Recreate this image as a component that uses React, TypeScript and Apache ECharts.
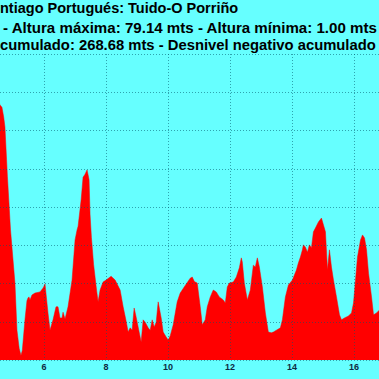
import React, { useEffect, useRef } from "react";
import * as echarts from "echarts";

// Distance along the route (km)
const distances: number[] = [
  4.40, 4.578, 4.643, 4.70, 4.74, 4.82, 4.92, 5.063, 5.128, 5.20, 5.257, 5.30, 5.386, 5.45, 5.483, 5.515, 5.548, 5.612, 5.709, 5.871, 5.97, 6.00, 6.032,
  6.129, 6.194, 6.291, 6.388, 6.452, 6.517, 6.582, 6.614, 6.679, 6.775, 6.905, 7.002, 7.066, 7.10, 7.20, 7.26, 7.32, 7.389, 7.42, 7.454, 7.486, 7.53,
  7.60, 7.70, 7.745, 7.809, 7.906, 8.003, 8.165, 8.294, 8.456, 8.553, 8.649, 8.714, 8.779, 8.843, 8.908, 8.973, 9.037, 9.134, 9.199, 9.263, 9.360,
  9.425, 9.490, 9.554, 9.619, 9.683, 9.780, 9.845, 9.942, 10.006, 10.071, 10.168, 10.297, 10.394, 10.523, 10.717, 10.782, 10.85, 10.943, 11.040,
  11.105, 11.202, 11.267, 11.364, 11.460, 11.557, 11.654, 11.784, 11.848, 11.913, 11.977, 12.107, 12.204, 12.301, 12.365, 12.397, 12.462, 12.559,
  12.656, 12.753, 12.817, 12.882, 12.947, 13.044, 13.141, 13.237, 13.334, 13.40, 13.496, 13.625, 13.690, 13.787, 13.884, 14.013, 14.142, 14.207,
  14.271, 14.336, 14.368, 14.433, 14.498, 14.562, 14.627, 14.691, 14.756, 14.853, 14.950, 15.015, 15.079, 15.144, 15.208, 15.273, 15.338, 15.435,
  15.532, 15.596, 15.693, 15.822, 15.919, 15.984, 16.048, 16.113, 16.210, 16.275, 16.339, 16.404, 16.469, 16.566, 16.630, 16.727, 16.824, 16.95,
];

// Altitude (m)
const altitudes: number[] = [
  72, 66.7, 66.1, 63.5, 60.9, 48, 34.0, 20.1, 7.8, 3.0, 1.2, 2.5, 10.5, 15.5, 16.2, 16.5, 15.7, 17.0, 17.5, 17.8, 18.8, 19.3, 19.9,
  12.3, 7.8, 10.5, 13.9, 13.9, 11.0, 11.0, 12.5, 10.7, 13.9, 20.9, 31.4, 34.0, 35, 42, 47.8, 48.5, 49.7, 48.5, 47.1, 38, 32,
  25, 18, 15.2, 18.3, 20.4, 20.9, 21.9, 20.9, 18.3, 13.9, 10.2, 7.3, 8.4, 7.8, 13.6, 11.2, 8.6, 4.7, 10.5, 9.9, 8.4,
  7.8, 10.5, 8.6, 9.9, 15.2, 11.0, 7.3, 6.0, 5.2, 6.3, 9.2, 15.2, 17.5, 19.1, 21.4, 21.7, 20.5, 20.1, 13.9,
  9.2, 10.5, 13.9, 16.5, 18.3, 17.8, 16.5, 15.7, 14.9, 19.1, 20.1, 20.4, 21.7, 24.1, 26.7, 25.6, 20.1, 15.7,
  18.3, 24.8, 24.3, 26.7, 24.3, 19.1, 12.3, 7.3, 7.1, 7.3, 7.8, 8.4, 10.5, 16.5, 19.6, 20.9, 23.5, 25.4,
  26.9, 28.8, 30.1, 29.5, 28.2, 30.1, 29.3, 33.5, 34.5, 36.1, 37.1, 35.3, 33.5, 23.5, 28.8, 24.3, 20.9, 16.5,
  11.8, 10.5, 11.0, 11.5, 12.3, 14.9, 20.9, 26.9, 31.4, 32.7, 31.9, 28.8, 22.7, 16.5, 11.8, 12.3, 13.1, 14,
];

const titleLines: string[] = [
  "ntiago Portugués: Tuido-O Porriño",
  "- Altura máxima: 79.14 mts - Altura mínima: 1.00 mts",
  "cumulado: 268.68 mts - Desnivel negativo acumulado",
];

const xTicks = { min: 4, max: 18, interval: 2 };
const yTicks = { min: 0, max: 80, interval: 10 };

// The visible window shows only part of the plot: the chart canvas is shifted left
const OFFSET_LEFT = 18;
const CANVAS_W = 434;
const CANVAS_H = 379;

export default function App() {
  const ref = useRef<HTMLDivElement>(null);
  useEffect(() => {
    if (!ref.current) return;
    const chart = echarts.init(ref.current, undefined, { renderer: "svg" });
    const gridColor = "rgba(0,90,110,0.55)";
    const titleX = [0, 3, 0];
    const titleY = [8, 27, 45];
    const titleSize = [14.5, 15.1, 14.8];
    chart.setOption({
      animation: false,
      backgroundColor: "#66FFFF",
      grid: { left: 0, right: 0, top: 54, bottom: 19, containLabel: false },
      xAxis: {
        type: "value",
        min: xTicks.min,
        max: xTicks.max,
        interval: xTicks.interval,
        z: 3,
        axisLine: { show: false },
        axisTick: { show: false },
        splitLine: { show: true, lineStyle: { color: gridColor, type: [1, 2], width: 1 } },
        axisLabel: {
          showMinLabel: false,
          showMaxLabel: false,
          margin: 2,
          color: "#0e2a42",
          fontSize: 9,
          fontWeight: "bold",
          fontFamily: "Liberation Sans, Arial, sans-serif",
        },
      },
      yAxis: {
        type: "value",
        min: yTicks.min,
        max: yTicks.max,
        interval: yTicks.interval,
        z: 3,
        axisLine: { show: false },
        axisTick: { show: false },
        axisLabel: { show: false },
        splitLine: { show: true, lineStyle: { color: gridColor, type: [1, 2], width: 1 } },
      },
      series: [
        {
          type: "line",
          z: 1,
          data: distances.map((d, i) => [d, altitudes[i]]),
          showSymbol: false,
          symbol: "none",
          lineStyle: { width: 0.5, color: "#FF0000" },
          areaStyle: { color: "#FF0000", opacity: 1 },
          silent: true,
        },
      ],
      graphic: titleLines.map((t, i) => ({
        type: "text",
        x: titleX[i] + OFFSET_LEFT,
        y: titleY[i],
        style: {
          text: t,
          fill: "#000000",
          font: `bold ${titleSize[i]}px 'Liberation Sans', Arial, sans-serif`,
          textAlign: "left",
          textVerticalAlign: "middle",
        },
      })),
    });
    return () => chart.dispose();
  }, []);
  return (
    <div style={{ position: "fixed", left: 0, top: 0, width: 379, height: 379, overflow: "hidden" }}>
      <div
        ref={ref}
        style={{ position: "absolute", left: -OFFSET_LEFT, top: 0, width: CANVAS_W, height: CANVAS_H }}
      />
    </div>
  );
}
